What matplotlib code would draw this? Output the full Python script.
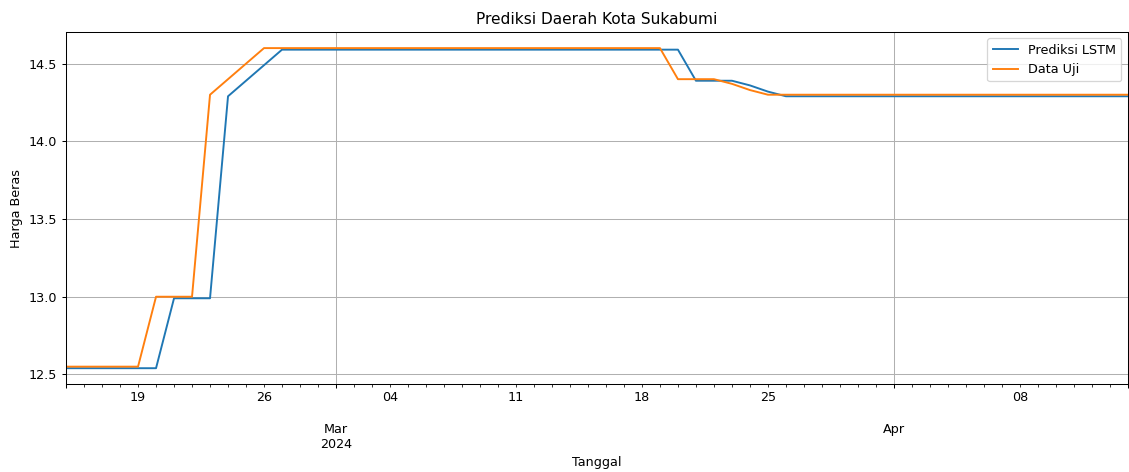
import pandas as pd
import matplotlib
matplotlib.use("Agg")
import matplotlib.pyplot as plt

# daily dates, 15 Feb - 14 Apr 2024
tanggal = pd.date_range("2024-02-15", "2024-04-14", freq="D")

data_uji = ([12.55] * 5 + [13.0] * 3 + [14.3, 14.4, 14.5] + [14.6] * 23 +
            [14.4] * 3 + [14.37, 14.33] + [14.3] * 21)
prediksi_lstm = ([12.54] * 6 + [12.99] * 3 + [14.29, 14.39, 14.49] + [14.59] * 23 +
                 [14.39] * 3 + [14.36, 14.32] + [14.29] * 20)

df = pd.DataFrame({"Prediksi LSTM": prediksi_lstm, "Data Uji": data_uji}, index=tanggal)

fig, ax = plt.subplots(figsize=(1129 / 92, 472 / 92), dpi=92)
df.plot(ax=ax, color=["#1f77b4", "#ff7f0e"])
ax.set_title("Prediksi Daerah Kota Sukabumi")
ax.set_xlabel("Tanggal")
ax.set_ylabel("Harga Beras")
ax.legend(loc="upper right")
ax.grid(True)
fig.subplots_adjust(left=0.0585, right=0.999, top=0.932, bottom=0.186)
fig.savefig("out.png")
